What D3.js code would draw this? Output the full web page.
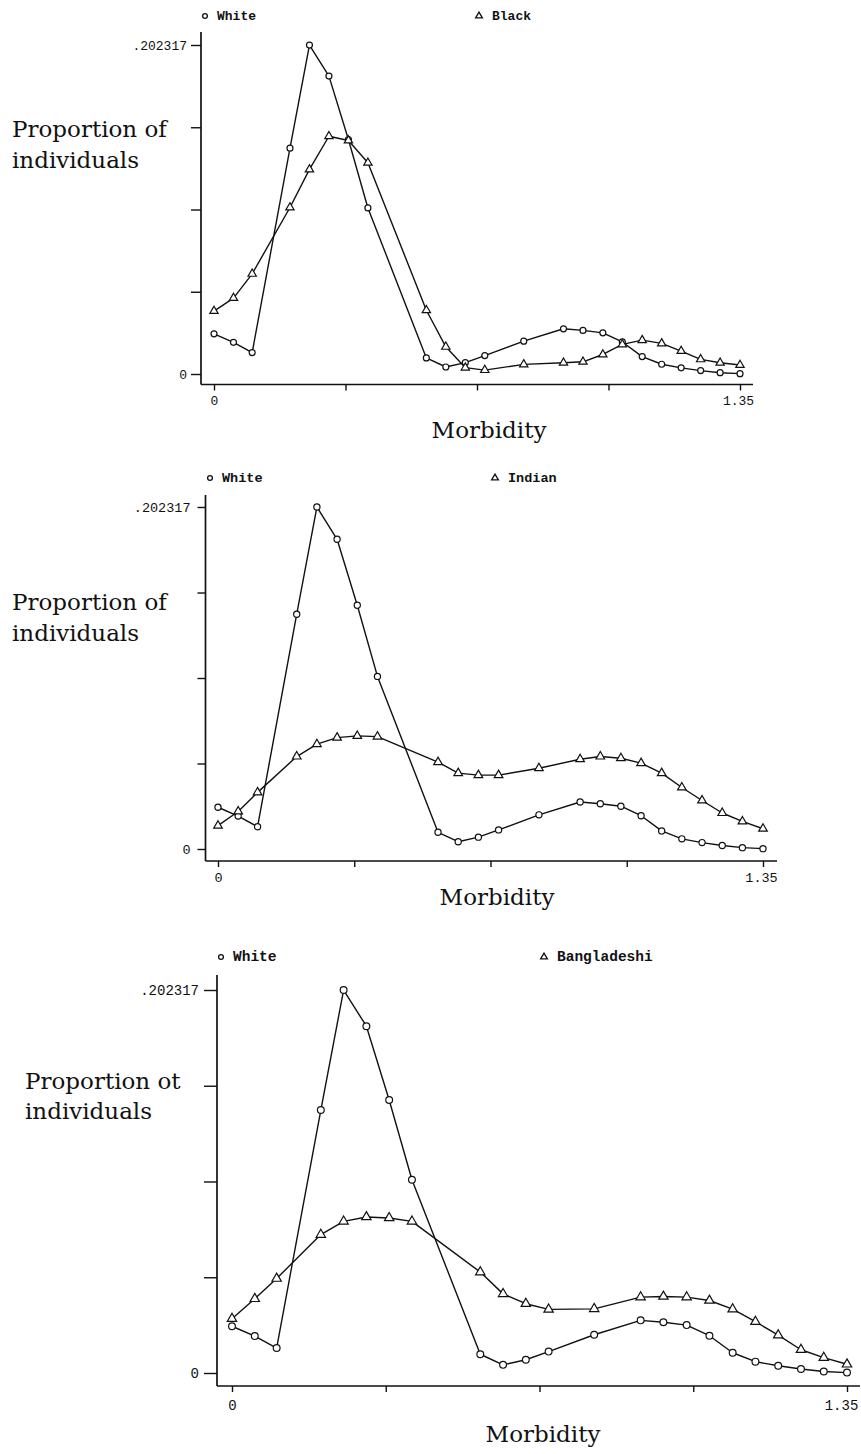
<!DOCTYPE html>
<html>
<head>
<meta charset="utf-8">
<script src="https://cdn.jsdelivr.net/npm/d3@7"></script>
<style>
  html, body { margin: 0; padding: 0; background: #fff; }
  svg { display: block; }
</style>
</head>
<body>
<svg id="chart" width="861" height="1454"></svg>
<script>
// ---------------- data ----------------
const morbidity = [0, 0.05, 0.098, 0.195, 0.245, 0.295, 0.345, 0.395, 0.545, 0.595, 0.645, 0.695,
                   0.795, 0.897, 0.947, 0.998, 1.048, 1.099, 1.149, 1.199, 1.249, 1.299, 1.35];
const white = [0.0247, 0.0195, 0.0132, 0.1389, 0.2023, 0.1832, 0.1442, 0.1021, 0.0099, 0.0043, 0.0070, 0.0113,
               0.0202, 0.0278, 0.0268, 0.0253, 0.0197, 0.0107, 0.0060, 0.0038, 0.0021, 0.0008, 0.0002];
const black = [0.0387, 0.0467, 0.0616, 0.1024, 0.1258, 0.1462, 0.1436, 0.1299, 0.0392, 0.0167, 0.0039, 0.0024,
               0.0059, 0.0069, 0.0075, 0.0120, 0.0182, 0.0208, 0.0188, 0.0141, 0.0090, 0.0069, 0.0055];
const indian = [0.0138, 0.0222, 0.0335, 0.0547, 0.0620, 0.0659, 0.0669, 0.0665, 0.0514, 0.0449, 0.0437, 0.0437,
                0.0478, 0.0531, 0.0547, 0.0537, 0.0508, 0.0449, 0.0364, 0.0287, 0.0213, 0.0163, 0.0120];
const bangladeshi = [0.0287, 0.0392, 0.0499, 0.0731, 0.0801, 0.0824, 0.0819, 0.0801, 0.0533, 0.0418, 0.0366, 0.0336,
                     0.0339, 0.0401, 0.0404, 0.0401, 0.0383, 0.0337, 0.0271, 0.0200, 0.0123, 0.0081, 0.0046];

const seriesNames = ["White", "Black", "Indian", "Bangladeshi"];
const xTickValues = [0, 0.3375, 0.675, 1.0125, 1.35];
const xTickLabels = ["0", "", "", "", "1.35"];
const yTickValues = [0, 0.0505793, 0.1011585, 0.1517378, 0.202317];
const yTickLabels = ["0", "", "", "", ".202317"];
const yTitles = [["Proportion of", "individuals"], ["Proportion of", "individuals"], ["Proportion ot", "individuals"]];
const xTitle = "Morbidity";
const compareSeries = [black, indian, bangladeshi];
const compareNames = ["Black", "Indian", "Bangladeshi"];

// ---------------- layout (per panel) ----------------
const layouts = [
  { xr: [214, 740], yr: [374, 45], axX: 201, axTop: 32, axY: 384.5, axEnd: 753,
    legY: 16, legC: 205, legT: 479, legFs: 13, tickFs: 13, yTickSize: 10, yPad: 4, xPad: 5, lastDx: -2,
    titleX: 12, titleY: [137, 168], morbX: 489, morbY: 438, r: 3, tri: 30 },
  { xr: [218, 763], yr: [849, 507], axX: 205.5, axTop: 495, axY: 861, axEnd: 777,
    legY: 478, legC: 210, legT: 495, legFs: 13.5, tickFs: 13.5, yTickSize: 8, yPad: 7, xPad: 5, lastDx: -2,
    titleX: 12, titleY: [610, 641], morbX: 497, morbY: 905, r: 3.1, tri: 32 },
  { xr: [232, 847], yr: [1373, 990], axX: 217, axTop: 975, axY: 1386, axEnd: 860,
    legY: 957, legC: 221, legT: 544, legFs: 14.5, tickFs: 14, yTickSize: 13, yPad: 5, xPad: 8, lastDx: -6,
    titleX: 25, titleY: [1089, 1119], morbX: 543, morbY: 1442, r: 3.4, tri: 38 }
];

const svg = d3.select("#chart");
svg.append("rect").attr("width", 861).attr("height", 1454).attr("fill", "#fff");

const mono = "'Liberation Mono', 'DejaVu Sans Mono', monospace";
const serif = "'DejaVu Serif', 'Liberation Serif', serif";

layouts.forEach((L, p) => {
  const g = svg.append("g");
  const x = d3.scaleLinear().domain([0, 1.35]).range(L.xr);
  const y = d3.scaleLinear().domain([0, 0.202317]).range(L.yr);

  // axes lines
  g.append("line").attr("x1", L.axX).attr("x2", L.axX).attr("y1", L.axTop).attr("y2", L.axY)
    .attr("stroke", "#111").attr("stroke-width", 1.7);
  g.append("line").attr("x1", L.axX).attr("x2", L.axEnd).attr("y1", L.axY).attr("y2", L.axY)
    .attr("stroke", "#111").attr("stroke-width", 1.7);

  // y axis ticks
  const yAxis = d3.axisLeft(y).tickValues(yTickValues).tickSize(L.yTickSize).tickPadding(L.yPad)
    .tickFormat((d, i) => yTickLabels[i]);
  const ya = g.append("g").attr("transform", `translate(${L.axX},0)`).call(yAxis);
  ya.select(".domain").remove();
  ya.selectAll("line").attr("stroke", "#111").attr("stroke-width", 1.4);
  ya.selectAll("text").attr("font-family", mono).attr("font-size", L.tickFs).attr("fill", "#111");

  // x axis ticks
  const xAxis = d3.axisBottom(x).tickValues(xTickValues).tickSize(6).tickPadding(L.xPad)
    .tickFormat((d, i) => xTickLabels[i]);
  const xa = g.append("g").attr("transform", `translate(0,${L.axY})`).call(xAxis);
  xa.select(".domain").remove();
  xa.selectAll("line").attr("stroke", "#111").attr("stroke-width", 1.4);
  xa.selectAll("text").attr("font-family", mono).attr("font-size", L.tickFs).attr("fill", "#111")
    .attr("dx", (d, i) => i === xTickValues.length - 1 ? L.lastDx : 0);

  // titles
  const yt = g.append("text").attr("font-family", serif).attr("font-size", 23).attr("fill", "#111");
  yTitles[p].forEach((t, i) => {
    yt.append("tspan").attr("x", L.titleX).attr("y", L.titleY[i]).text(t);
  });
  g.append("text").attr("x", L.morbX).attr("y", L.morbY).attr("text-anchor", "middle")
    .attr("font-family", serif).attr("font-size", 23).attr("fill", "#111").text(xTitle);

  // lines
  const line = d3.line().x((d, i) => x(morbidity[i])).y(d => y(d));
  const comp = compareSeries[p];
  [white, comp].forEach(s => {
    g.append("path").datum(s).attr("d", line).attr("fill", "none")
      .attr("stroke", "#111").attr("stroke-width", 1.4).attr("stroke-linejoin", "round");
  });

  // markers
  g.append("g").selectAll("circle").data(white).join("circle")
    .attr("cx", (d, i) => x(morbidity[i])).attr("cy", d => y(d)).attr("r", L.r)
    .attr("fill", "#fff").attr("stroke", "#111").attr("stroke-width", 1.2);
  const tri = d3.symbol(d3.symbolTriangle, L.tri);
  g.append("g").selectAll("path").data(comp).join("path")
    .attr("d", tri).attr("transform", (d, i) => `translate(${x(morbidity[i])},${y(d)})`)
    .attr("fill", "#fff").attr("stroke", "#111").attr("stroke-width", 1.2);

  // legend
  g.append("circle").attr("cx", L.legC).attr("cy", L.legY).attr("r", 2.4)
    .attr("fill", "#fff").attr("stroke", "#111").attr("stroke-width", 1.3);
  g.append("text").attr("x", L.legC + 12).attr("y", L.legY + 4).attr("font-family", mono)
    .attr("font-size", L.legFs).attr("font-weight", "bold").attr("fill", "#111").text(seriesNames[0]);
  g.append("path").attr("d", d3.symbol(d3.symbolTriangle, 20)())
    .attr("transform", `translate(${L.legT},${L.legY})`)
    .attr("fill", "#fff").attr("stroke", "#111").attr("stroke-width", 1.3);
  g.append("text").attr("x", L.legT + 13).attr("y", L.legY + 4).attr("font-family", mono)
    .attr("font-size", L.legFs).attr("font-weight", "bold").attr("fill", "#111").text(compareNames[p]);
});
</script>
</body>
</html>
